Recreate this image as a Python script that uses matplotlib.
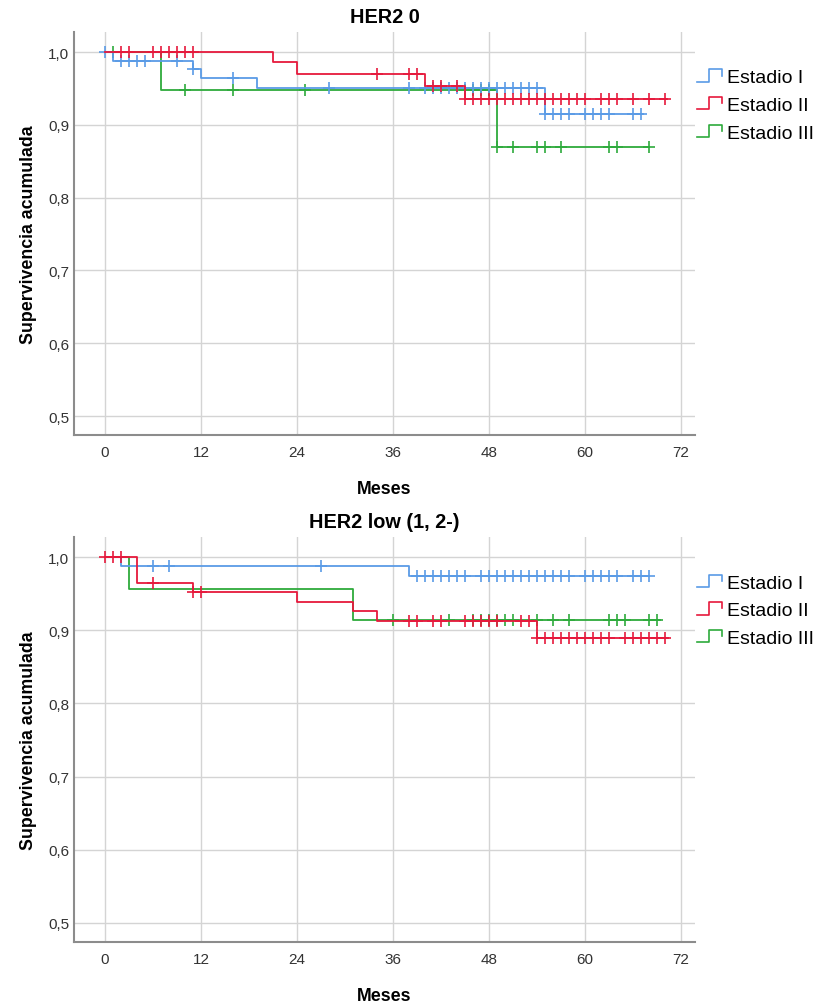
import numpy as np
import matplotlib
matplotlib.use('Agg')
import matplotlib.pyplot as plt
from matplotlib.legend_handler import HandlerBase
from matplotlib.lines import Line2D
from matplotlib.ticker import FuncFormatter

plt.rcParams['font.family'] = ['Liberation Sans', 'DejaVu Sans']

# Curvas Kaplan-Meier por estadio (tiempos de evento, supervivencia tras el evento, censuras, fin de seguimiento)
estadios = ['Estadio I', 'Estadio II', 'Estadio III']
colores = ['#5a9be6', '#e6193c', '#2eaa3c']

# HER2 0
her2_0_t = [[0, 1, 11, 12, 19, 55],
            [0, 21, 24, 40, 45],
            [0, 7, 49]]
her2_0_s = [[1.0, 0.988, 0.977, 0.964, 0.950, 0.915],
            [1.0, 0.986, 0.970, 0.954, 0.936],
            [1.0, 0.948, 0.869]]
her2_0_cens = [[0, 2, 3, 4, 5, 9, 11, 16, 28, 38, 40, 41, 42, 43, 44, 45, 46, 47, 48, 49,
                50, 51, 52, 53, 54, 55, 56, 57, 58, 60, 61, 62, 63, 66, 67],
               [2, 3, 6, 7, 8, 9, 10, 11, 34, 38, 39, 41, 42, 44, 45, 46, 47, 48, 49, 50,
                51, 52, 53, 54, 55, 56, 57, 58, 59, 60, 62, 63, 64, 66, 68, 70],
               [1, 10, 16, 25, 45, 46, 47, 48, 49, 51, 54, 55, 57, 63, 64, 68]]
her2_0_fin = [67.3, 70.2, 68]

# HER2 low (1, 2-)
her2_low_t = [[0, 2, 38],
              [0, 4, 11, 24, 31, 34, 54],
              [0, 3, 31]]
her2_low_s = [[1.0, 0.988, 0.974],
              [1.0, 0.965, 0.952, 0.939, 0.926, 0.913, 0.890],
              [1.0, 0.957, 0.914]]
her2_low_cens = [[6, 8, 27, 39, 40, 41, 42, 43, 44, 45, 47, 48, 49, 50, 51, 52, 53, 54, 55,
                  56, 57, 58, 60, 61, 62, 63, 64, 66, 67, 68],
                 [0, 1, 2, 6, 11, 12, 38, 39, 41, 42, 45, 46, 47, 48, 49, 52, 53, 54, 55,
                  56, 57, 58, 59, 60, 61, 62, 63, 65, 66, 67, 68, 69, 70],
                 [36, 43, 46, 47, 48, 49, 50, 51, 54, 56, 58, 63, 64, 65, 68, 69]]
her2_low_fin = [68, 70.4, 69.4]

x_ticks = [0, 12, 24, 36, 48, 60, 72]
y_ticks = [0.5, 0.6, 0.7, 0.8, 0.9, 1.0]


class StepHandler(HandlerBase):
    # símbolo de la leyenda en forma de escalón
    def create_artists(self, legend, orig_handle, xdescent, ydescent, width, height, fontsize, trans):
        xs = np.array([0, 0.5, 0.5, 1.0, 1.0]) * width - xdescent
        ys = np.array([0.05, 0.05, 0.95, 0.95, 0.5]) * height - ydescent
        line = Line2D(xs, ys, color=orig_handle.get_color(), lw=1.2)
        line.set_transform(trans)
        return [line]


def km_curve(ax, t, s, cens, fin, color, label):
    t = np.asarray(t, float)
    s = np.asarray(s, float)
    xs = np.append(t, fin)
    ys = np.append(s, s[-1])
    ax.step(xs, ys, where='post', color=color, lw=1.3, label=label)
    c = np.asarray(cens, float)
    cy = s[np.searchsorted(t, c, side='right') - 1]
    ax.plot(c, cy, ls='none', marker='+', ms=9, mew=1.2, color=color)


def panel(ax, titulo, tiempos, supervs, censuras, fines):
    for i in [2, 0, 1]:
        km_curve(ax, tiempos[i], supervs[i], censuras[i], fines[i], colores[i], estadios[i])
    ax.set_xlim(-3.875, 73.75)
    ax.set_ylim(0.474, 1.0275)
    ax.set_xticks(x_ticks)
    ax.set_yticks(y_ticks)
    ax.yaxis.set_major_formatter(FuncFormatter(lambda v, p: f'{v:.1f}'.replace('.', ',')))
    ax.grid(True, color='#d4d4d4', lw=1)
    ax.set_axisbelow(True)
    for sp in ['top', 'right']:
        ax.spines[sp].set_visible(False)
    for sp in ['left', 'bottom']:
        ax.spines[sp].set_color('#8c8c8c')
        ax.spines[sp].set_linewidth(1.5)
    ax.tick_params(length=0, labelsize=11, labelcolor='#333333', pad=7)
    ax.tick_params(axis='y', pad=3.5)
    ax.set_title(titulo, fontsize=14.3, fontweight='bold', pad=7.5)
    ax.set_xlabel('Meses', fontsize=12.8, fontweight='bold', labelpad=15)
    ax.set_ylabel('Supervivencia acumulada', fontsize=12.8, fontweight='bold', labelpad=8)
    handles, labels = ax.get_legend_handles_labels()
    orden = [labels.index(e) for e in estadios]
    ax.legend([handles[k] for k in orden], estadios, loc='upper left',
              bbox_to_anchor=(0.99, 0.928), frameon=False, fontsize=14,
              handler_map={h: StepHandler() for h in handles},
              handlelength=1.3, handletextpad=0.25, labelspacing=0.52, borderaxespad=0)


fig = plt.figure(figsize=(8.22, 10.03), dpi=100)
ax1 = fig.add_axes([0.0900, 0.5653, 0.7555, 0.4018])
ax2 = fig.add_axes([0.0900, 0.0598, 0.7555, 0.4038])

panel(ax1, 'HER2 0', her2_0_t, her2_0_s, her2_0_cens, her2_0_fin)
panel(ax2, 'HER2 low (1, 2-)', her2_low_t, her2_low_s, her2_low_cens, her2_low_fin)

fig.savefig('out.png', dpi=100)
plt.close(fig)
